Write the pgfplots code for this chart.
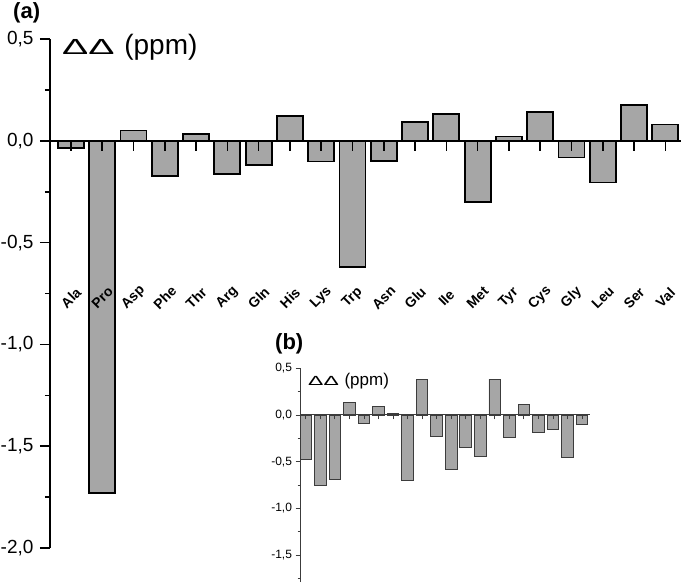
\documentclass[border=0pt]{standalone}
\usepackage{pgfplots}
\pgfplotsset{compat=1.18}
\usepackage{fontspec}
\setmainfont{Liberation Sans}
\definecolor{barfill}{RGB}{166,166,166}
\definecolor{insetline}{RGB}{60,60,60}
\begin{document}
\begin{tikzpicture}[x=1pt,y=1pt]
\path[use as bounding box] (0,0) rectangle (685,582);
\begin{axis}[
  at={(50pt,34pt)}, anchor=south west,
  scale only axis, width=631pt, height=509pt,
  xmin=-0.67, xmax=19.5, ymin=-2, ymax=0.5,
  enlargelimits=false,
  axis y line=left, axis x line=middle,
  axis on top,
  x axis line style={-, line width=1.8pt},
  y axis line style={-, line width=1.8pt},
  xtick align=outside, ytick align=outside,
  major tick length=10pt, minor tick length=5pt,
  every tick/.style={black, line width=1.6pt},
  xtick={0,...,19},
  xticklabels={Ala,Pro,Asp,Phe,Thr,Arg,Gln,His,Lys,Trp,Asn,Glu,Ile,Met,Tyr,Cys,Gly,Leu,Ser,Val},
  x tick label style={yshift=-147pt, rotate=45, anchor=center, inner sep=0pt, font=\bfseries\fontsize{14}{14}\selectfont},
  ytick={-2,-1.5,-1,-0.5,0,0.5},
  minor ytick={-1.75,-1.25,-0.75,-0.25,0.25},
  y tick label style={xshift=-3pt, font=\fontsize{19}{19}\selectfont, /pgf/number format/.cd, fixed, fixed zerofill, precision=1, use comma, assume math mode=true},
]
\addplot[ybar, bar width=0.83, fill=barfill, draw=black, line width=1.8pt] coordinates {
(0,-0.035) (1,-1.729) (2,0.051) (3,-0.171) (4,0.034) (5,-0.163) (6,-0.120) (7,0.120) (8,-0.102) (9,-0.619)
(10,-0.100) (11,0.092) (12,0.130) (13,-0.302) (14,0.021) (15,0.140) (16,-0.082) (17,-0.205) (18,0.174) (19,0.080)};
\end{axis}
\node[anchor=base west, inner sep=0, font=\fontsize{28}{28}\selectfont] at (62,527) {\scalebox{1.4}[0.78]{ΔΔ}\hspace{2pt} (ppm)};
\node[anchor=north west, inner sep=0, font=\bfseries\fontsize{22}{22}\selectfont] at (13,580) {(a)};
\begin{axis}[
  at={(300pt,0pt)}, anchor=south west,
  scale only axis, width=290pt, height=213.7pt,
  xmin=-0.4, xmax=19.55, ymin=-1.79, ymax=0.5,
  enlargelimits=false,
  axis y line=left, axis x line=middle,
  axis on top,
  x axis line style={-, line width=1pt, insetline},
  y axis line style={-, line width=1pt, insetline},
  xtick align=outside, ytick align=outside,
  major tick length=4.5pt, minor tick length=2.5pt,
  every tick/.style={insetline, line width=0.8pt},
  xtick={0,...,19}, xticklabels={},
  ytick={-1.5,-1,-0.5,0,0.5},
  minor ytick={-1.75,-1.25,-0.75,-0.25,0.25},
  y tick label style={font=\fontsize{12}{12}\selectfont, /pgf/number format/.cd, fixed, fixed zerofill, precision=1, use comma, assume math mode=true},
]
\addplot[ybar, bar width=0.8, fill=barfill, draw=insetline, line width=0.9pt] coordinates {
(0,-0.475) (1,-0.750) (2,-0.687) (3,0.130) (4,-0.092) (5,0.095) (6,0.014) (7,-0.700) (8,0.384) (9,-0.225)
(10,-0.580) (11,-0.345) (12,-0.440) (13,0.384) (14,-0.240) (15,0.110) (16,-0.187) (17,-0.151) (18,-0.458) (19,-0.106)};
\end{axis}
\node[anchor=base west, inner sep=0, font=\fontsize{17}{17}\selectfont] at (308,197) {\scalebox{1.35}[0.78]{ΔΔ}\hspace{1pt} (ppm)};
\node[anchor=north west, inner sep=0, font=\bfseries\fontsize{22}{22}\selectfont] at (275,249) {(b)};
\end{tikzpicture}
\end{document}
